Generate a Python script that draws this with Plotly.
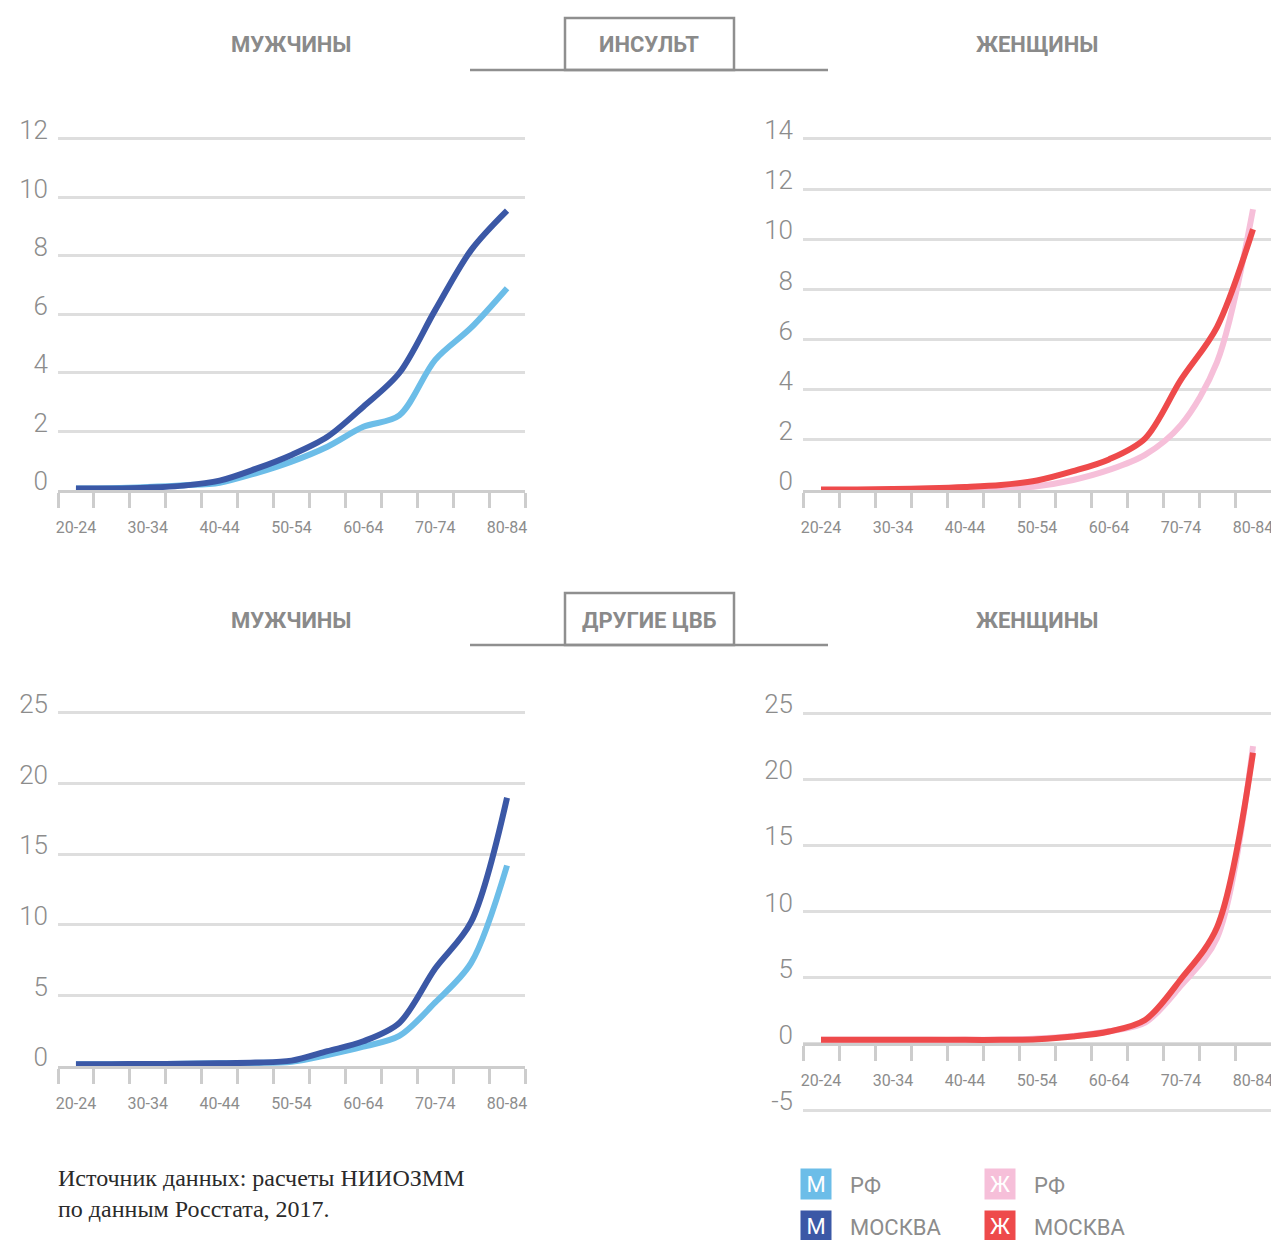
import plotly.graph_objects as go

W, H = 1271, 1240

ages = ["20-24", "25-29", "30-34", "35-39", "40-44", "45-49", "50-54",
        "55-59", "60-64", "65-69", "70-74", "75-79", "80-84"]
age_labels = [a if i % 2 == 0 else "" for i, a in enumerate(ages)]

# Инсульт
stroke_men_rf = [0.05, 0.06, 0.10, 0.16, 0.25, 0.57, 0.97, 1.48, 2.16, 2.55, 4.45, 5.55, 6.9]
stroke_men_msk = [0.05, 0.05, 0.08, 0.15, 0.32, 0.72, 1.20, 1.82, 2.85, 4.0, 6.15, 8.2, 9.55]
stroke_women_rf = [0.0, 0.0, 0.01, 0.02, 0.03, 0.05, 0.15, 0.40, 0.80, 1.40, 2.6, 5.1, 11.2]
stroke_women_msk = [0.02, 0.02, 0.04, 0.07, 0.12, 0.20, 0.38, 0.75, 1.22, 2.05, 4.4, 6.5, 10.4]

# Другие ЦВБ
other_men_rf = [0.12, 0.13, 0.14, 0.16, 0.19, 0.22, 0.30, 0.78, 1.37, 2.13, 4.5, 7.3, 14.2]
other_men_msk = [0.12, 0.13, 0.14, 0.16, 0.19, 0.24, 0.38, 1.05, 1.75, 3.05, 6.9, 10.2, 19.0]
other_women_rf = [0.3, 0.3, 0.3, 0.3, 0.3, 0.32, 0.40, 0.60, 0.95, 1.6, 4.4, 8.0, 22.5]
other_women_msk = [0.3, 0.3, 0.3, 0.3, 0.3, 0.30, 0.35, 0.55, 0.93, 1.8, 4.9, 8.8, 22.0]

y_ticks_other_women = [-5, 0, 5, 10, 15, 20, 25]
y_ticktext_other_women = ["-5", "0", "5", "10", "15", "20", "25"]

C_LB = "#6cbde8"
C_DB = "#3b58a6"
C_PK = "#f6bfd9"
C_RD = "#ee4a4b"
GRID = "#dedede"
AXL = "#cdcdcd"
TXT = "#8c8c8c"
COND = "Roboto, sans-serif"


def xd(a, b):
    return [a / W, b / W]


def yd(top, bottom):
    return [1 - bottom / H, 1 - top / H]


fig = go.Figure()

panels = [
    # (axis suffix, x px domain, y px domain, y range, dtick, series)
    ("", (58, 525), (139, 490), [0, 12], 2, [(stroke_men_rf, C_LB), (stroke_men_msk, C_DB)]),
    ("2", (803, 1271), (139, 490), [0, 14], 2, [(stroke_women_rf, C_PK), (stroke_women_msk, C_RD)]),
    ("3", (58, 525), (713, 1066), [0, 25], 5, [(other_men_rf, C_LB), (other_men_msk, C_DB)]),
    ("4", (803, 1271), (713, 1110), [-5, 25], 5, [(other_women_rf, C_PK), (other_women_msk, C_RD)]),
]

layout_axes = {}
for suf, xp, yp, yr, dt, series in panels:
    for vals, col in series:
        fig.add_trace(go.Scatter(
            x=ages, y=vals, mode="lines",
            line=dict(color=col, width=6, shape="spline", smoothing=0.9),
            xaxis="x" + suf, yaxis="y" + suf, showlegend=False, hoverinfo="skip",
        ))
    # pad the range by a hair so the outer grid lines are drawn
    span = yr[1] - yr[0]
    pad = span * 0.004
    top_px, bot_px = yp
    pxu = (bot_px - top_px) / span
    dom_top = top_px - pad * pxu
    dom_bot = bot_px + (pad * pxu if yr[0] < 0 else 0)
    yrange = [yr[0] - (pad if yr[0] < 0 else 0), yr[1] + pad]
    ydom = yd(dom_top, dom_bot)
    xa = dict(
        domain=xd(*xp), type="category", categoryorder="array", categoryarray=ages,
        range=[-0.5, 12.5], tickmode="array", tickvals=ages, ticktext=age_labels,
        tickson="boundaries", ticks="outside", ticklen=15, tickwidth=2.5, tickcolor=AXL,
        showline=True, linecolor=AXL, linewidth=3, showgrid=False, zeroline=False,
        tickangle=0, automargin=False, ticklabelstandoff=21,
        tickfont=dict(family=COND, size=16, color=TXT), fixedrange=True,
        anchor="y" + suf,
    )
    if suf == "4":
        frac0 = (0 - yrange[0]) / (yrange[1] - yrange[0])
        xa["anchor"] = "free"
        xa["position"] = ydom[0] + frac0 * (ydom[1] - ydom[0])
    ya = dict(
        domain=ydom, range=yrange, dtick=dt, tick0=0, showgrid=True, gridcolor=GRID, gridwidth=3,
        zeroline=False, showline=False, ticks="", automargin=False,
        tickfont=dict(family=COND, size=26, color=TXT, weight=300),
        ticklabelshift=-9, ticklabelstandoff=9, fixedrange=True,
        anchor="x" + suf,
    )
    if suf == "4":
        ya.update(tickmode="array", tickvals=y_ticks_other_women, ticktext=y_ticktext_other_women)
    layout_axes["xaxis" + suf] = xa
    layout_axes["yaxis" + suf] = ya

fig.update_layout(**layout_axes)

annotations = []
shapes = []


def px_ann(text, x, y, size, color=TXT, family=COND, weight="normal", xanchor="center", **kw):
    annotations.append(dict(
        text=text, x=x / W, y=1 - y / H, xref="paper", yref="paper",
        xanchor=xanchor, yanchor="middle", showarrow=False,
        font=dict(family=family, size=size, color=color, weight=weight), **kw))


HEAD = "#8a8a8a"
for yc, title in [(45, "ИНСУЛЬТ"), (620, "ДРУГИЕ ЦВБ")]:
    px_ann("МУЖЧИНЫ", 291, yc, 22, color=HEAD, weight="bold")
    px_ann("ЖЕНЩИНЫ", 1037, yc, 22, color=HEAD, weight="bold")
    px_ann(title, 649, yc, 22, color=HEAD, weight="bold")
    top = yc - 27
    bot = yc + 25
    shapes.append(dict(type="rect", xref="paper", yref="paper",
                       x0=565 / W, x1=734 / W, y0=1 - top / H, y1=1 - bot / H,
                       line=dict(color="#8f8f8f", width=2.5), fillcolor="rgba(0,0,0,0)"))
    shapes.append(dict(type="line", xref="paper", yref="paper",
                       x0=470 / W, x1=828 / W, y0=1 - bot / H, y1=1 - bot / H,
                       line=dict(color="#8f8f8f", width=2.5)))

# footnote
annotations.append(dict(
    text="Источник данных: расчеты НИИОЗММ<br>по данным Росстата, 2017.",
    x=56 / W, y=1 - 1193 / H, xref="paper", yref="paper", xanchor="left", yanchor="middle",
    align="left", showarrow=False,
    font=dict(family="Liberation Serif, DejaVu Serif, serif", size=24, color="#2a2a2a")))

# custom legend
legend_items = [
    (816, 1184, C_LB, "М", "РФ"),
    (816, 1226, C_DB, "М", "МОСКВА"),
    (1000, 1184, C_PK, "Ж", "РФ"),
    (1000, 1226, C_RD, "Ж", "МОСКВА"),
]
for cx, cy, col, letter, label in legend_items:
    annotations.append(dict(
        text=letter, x=cx / W, y=1 - cy / H, xref="paper", yref="paper",
        xanchor="center", yanchor="middle", showarrow=False, width=28, height=28,
        bgcolor=col, borderpad=1, font=dict(family=COND, size=22, color="white")))
    px_ann(label, cx + 32, cy + 1, 22, xanchor="left")

fig.update_layout(
    width=W, height=H, margin=dict(l=0, r=0, t=0, b=0, autoexpand=False),
    paper_bgcolor="white", plot_bgcolor="white",
    annotations=annotations, shapes=shapes, showlegend=False,
)

fig.write_html("out.html", config={"displayModeBar": False})
